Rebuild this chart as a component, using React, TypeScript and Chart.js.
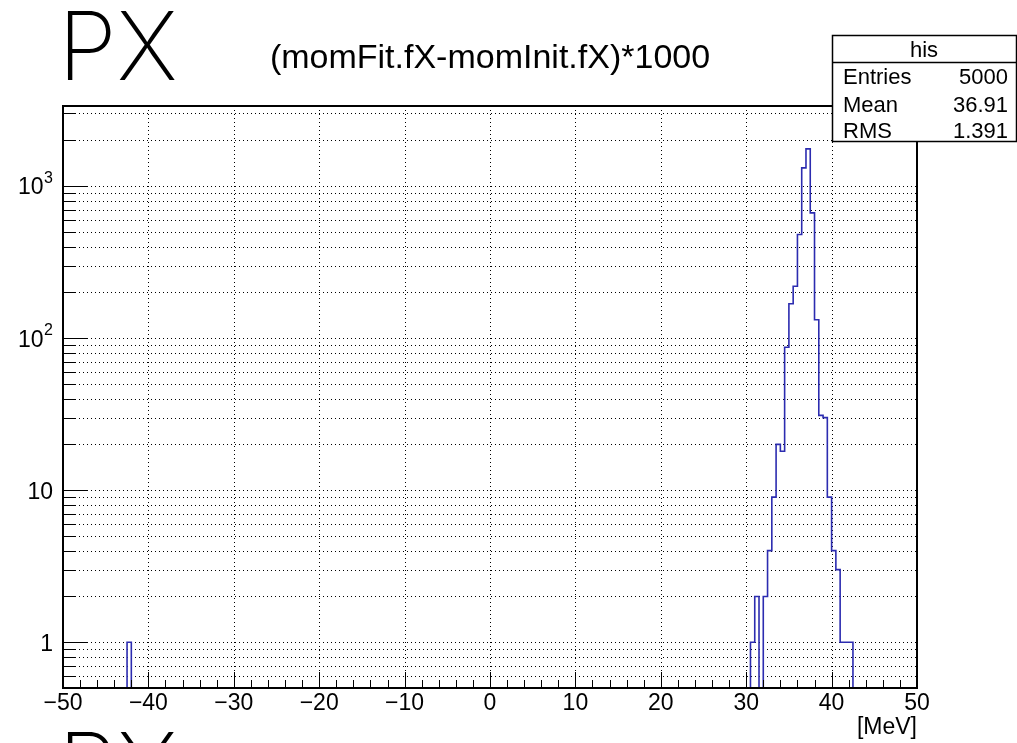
import React, { useEffect, useRef } from 'react';
import { Chart, registerables } from 'chart.js';

Chart.register(...registerables);

// ---- data ----
const binWidth = 0.5;
const binLowEdges = [
  -42.5, 30.5, 31.0, 31.5, 32.0, 32.5, 33.0, 33.5, 34.0, 34.5, 35.0, 35.5, 36.0,
  36.5, 37.0, 37.5, 38.0, 38.5, 39.0, 39.5, 40.0, 40.5, 41.0, 41.5, 42.0,
];
const binCounts = [
  1, 1, 2, 0, 2, 4, 9, 20, 18, 87, 168, 219, 480,
  1315, 1753, 666, 132, 31, 30, 9, 4, 3, 1, 1, 1,
];

const xMin = -50;
const xMax = 50;
const yMin = 0.5;
const yMax = 3357;
const xTickValues = [-50, -40, -30, -20, -10, 0, 10, 20, 30, 40, 50];
const xMinorStep = 2;
const yDecades = [1, 10, 100, 1000];
const yLabelBase = ['1', '10', '10', '10'];
const yLabelExp = ['', '', '2', '3'];
const yGridDecades = [0.1, 1, 10, 100, 1000];

const titleText = '(momFit.fX-momInit.fX)*1000';
const padLabel = 'PX';
const xAxisTitle = '[MeV]';
const statsName = 'his';
const statsLabels = ['Entries', 'Mean', 'RMS'];
const statsValues = ['5000', '36.91', '1.391'];

const histColor = '#2c2cb0';
const SANS = '"Liberation Sans", Arial, Helvetica, sans-serif';
const LIGHT = 'Inter, Roboto, "Liberation Sans", sans-serif';

const FLOOR = 0.01; // below axis minimum: empty bins go under the frame

function buildStepPoints() {
  const pts: { x: number; y: number }[] = [];
  let prevHi: number | null = null;
  for (let i = 0; i < binLowEdges.length; i++) {
    const lo = binLowEdges[i];
    const hi = lo + binWidth;
    const c = binCounts[i] > 0 ? binCounts[i] : FLOOR;
    if (prevHi === null || Math.abs(lo - prevHi) > 1e-9) {
      if (prevHi !== null) pts.push({ x: prevHi, y: FLOOR });
      pts.push({ x: lo, y: FLOOR });
    }
    pts.push({ x: lo, y: c });
    pts.push({ x: hi, y: c });
    prevHi = hi;
  }
  if (prevHi !== null) pts.push({ x: prevHi, y: FLOOR });
  return pts;
}

function yMinorValues() {
  const out: number[] = [];
  for (const d of yGridDecades) {
    for (let m = 1; m <= 9; m++) {
      const v = m * d;
      if (v > yMin * 1.0001 && v < yMax * 0.9999) out.push(v);
    }
  }
  return out;
}

function fmtX(v: number) {
  return v < 0 ? '\u2212' + Math.abs(v) : String(v);
}

const rootFramePlugin = {
  id: 'rootFrame',
  beforeDatasetsDraw(chart: any) {
    const { ctx, chartArea: a, scales } = chart;
    const x = scales.x;
    const y = scales.y;
    ctx.save();
    ctx.strokeStyle = '#000';
    ctx.lineWidth = 1;
    ctx.setLineDash([1, 3]);
    for (const v of xTickValues) {
      const px = Math.round(x.getPixelForValue(v)) + 0.5;
      if (px <= a.left + 2 || px >= a.right - 2) continue;
      ctx.beginPath();
      ctx.moveTo(px, a.top);
      ctx.lineTo(px, a.bottom);
      ctx.stroke();
    }
    for (const v of yMinorValues()) {
      const py = Math.round(y.getPixelForValue(v)) + 0.5;
      if (py <= a.top + 2 || py >= a.bottom - 2) continue;
      ctx.beginPath();
      ctx.moveTo(a.left, py);
      ctx.lineTo(a.right, py);
      ctx.stroke();
    }
    ctx.restore();
  },
  afterDatasetsDraw(chart: any) {
    const { ctx, chartArea: a, scales } = chart;
    const x = scales.x;
    const y = scales.y;
    ctx.save();
    ctx.strokeStyle = '#000';
    ctx.lineWidth = 1;
    ctx.setLineDash([]);
    for (let v = xMin; v <= xMax + 1e-9; v += xMinorStep) {
      const major = xTickValues.indexOf(v) >= 0;
      const px = Math.round(x.getPixelForValue(v)) + 0.5;
      ctx.beginPath();
      ctx.moveTo(px, a.bottom);
      ctx.lineTo(px, a.bottom - (major ? 16 : 8));
      ctx.stroke();
    }
    for (const v of yMinorValues()) {
      const major = yDecades.some((d) => Math.abs(d - v) < 1e-9);
      const py = Math.round(y.getPixelForValue(v)) + 0.5;
      ctx.beginPath();
      ctx.moveTo(a.left, py);
      ctx.lineTo(a.left + (major ? 24 : 12), py);
      ctx.stroke();
    }
    ctx.lineWidth = 2;
    ctx.strokeRect(a.left, a.top, a.right - a.left, a.bottom - a.top);
    ctx.restore();
  },
  afterDraw(chart: any) {
    const { ctx, chartArea: a, scales } = chart;
    const y = scales.y;
    ctx.save();
    ctx.fillStyle = '#000';
    ctx.textBaseline = 'alphabetic';
    // y-axis decade labels (with superscript exponent)
    const rightEdge = a.left - 10;
    yDecades.forEach((d, i) => {
      const py = y.getPixelForValue(d);
      const exp = yLabelExp[i];
      let xr = rightEdge;
      if (exp) {
        ctx.font = `16px ${SANS}`;
        ctx.textAlign = 'right';
        ctx.fillText(exp, xr, py - 3);
        xr -= ctx.measureText(exp).width + 0.5;
      }
      ctx.font = `23px ${SANS}`;
      ctx.textAlign = 'right';
      ctx.fillText(yLabelBase[i], xr, py + 8.5);
    });
    // pad label (this pad and the next one, cut off)
    ctx.font = `200 95px ${LIGHT}`;
    ctx.textAlign = 'left';
    ctx.fillText(padLabel, 58, 80);
    ctx.fillText(padLabel, 58, 801);
    // title
    ctx.font = `34px ${SANS}`;
    ctx.textAlign = 'center';
    ctx.fillText(titleText, (a.left + a.right) / 2, 68);
    // x axis title
    ctx.font = `23px ${SANS}`;
    ctx.textAlign = 'right';
    ctx.fillText(xAxisTitle, a.right, 734);
    // stats box
    const bx = 832.5, by = 35.5, bw = 184, bh = 106;
    ctx.fillStyle = '#fff';
    ctx.fillRect(bx, by, bw, bh);
    ctx.strokeStyle = '#000';
    ctx.lineWidth = 1.5;
    ctx.strokeRect(bx, by, bw, bh);
    ctx.beginPath();
    ctx.moveTo(bx, 62.5);
    ctx.lineTo(bx + bw, 62.5);
    ctx.stroke();
    ctx.fillStyle = '#000';
    ctx.font = `22px ${SANS}`;
    ctx.textAlign = 'center';
    ctx.fillText(statsName, 924, 57);
    const baselines = [84, 111.5, 137.5];
    statsLabels.forEach((lab, i) => {
      ctx.textAlign = 'left';
      ctx.fillText(lab, 843, baselines[i]);
      ctx.textAlign = 'right';
      ctx.fillText(statsValues[i], 1008, baselines[i]);
    });
    ctx.restore();
  },
};

export default function App() {
  const ref = useRef<HTMLCanvasElement | null>(null);
  useEffect(() => {
    document.body.style.margin = '0';
    const canvas = ref.current;
    if (!canvas) return;
    const chart = new Chart(canvas, {
      type: 'scatter',
      data: {
        datasets: [
          {
            data: buildStepPoints(),
            showLine: true,
            borderColor: histColor,
            borderWidth: 1.6,
            pointRadius: 0,
            pointHoverRadius: 0,
            fill: false,
            tension: 0,
            clip: 0,
          } as any,
        ],
      },
      options: {
        animation: false,
        responsive: false,
        maintainAspectRatio: false,
        layout: { padding: { top: 106, right: 100, left: 0, bottom: 0 } },
        plugins: {
          legend: { display: false },
          tooltip: { enabled: false },
          title: { display: false },
        },
        scales: {
          x: {
            type: 'linear',
            min: xMin,
            max: xMax,
            afterBuildTicks: (s: any) => {
              s.ticks = xTickValues.map((v) => ({ value: v }));
            },
            afterFit: (s: any) => {
              s.height = 55;
            },
            grid: { display: false, drawTicks: false, tickLength: 0 },
            border: { display: false },
            ticks: {
              autoSkip: false,
              maxRotation: 0,
              padding: 2,
              color: '#000',
              font: { family: SANS, size: 23 },
              callback: (v: any) => fmtX(Number(v)),
            },
          },
          y: {
            type: 'logarithmic',
            min: yMin,
            max: yMax,
            afterBuildTicks: (s: any) => {
              s.ticks = yDecades.map((v) => ({ value: v }));
            },
            afterFit: (s: any) => {
              s.width = 63;
            },
            grid: { display: false, drawTicks: false, tickLength: 0 },
            border: { display: false },
            ticks: { display: false },
          },
        },
      } as any,
      plugins: [rootFramePlugin],
    });
    return () => chart.destroy();
  }, []);
  return (
    <div style={{ position: 'absolute', left: 0, top: 0, width: 1017, height: 743, background: '#fff' }}>
      <canvas ref={ref} width={1017} height={743} style={{ display: 'block', width: 1017, height: 743 }} />
    </div>
  );
}
